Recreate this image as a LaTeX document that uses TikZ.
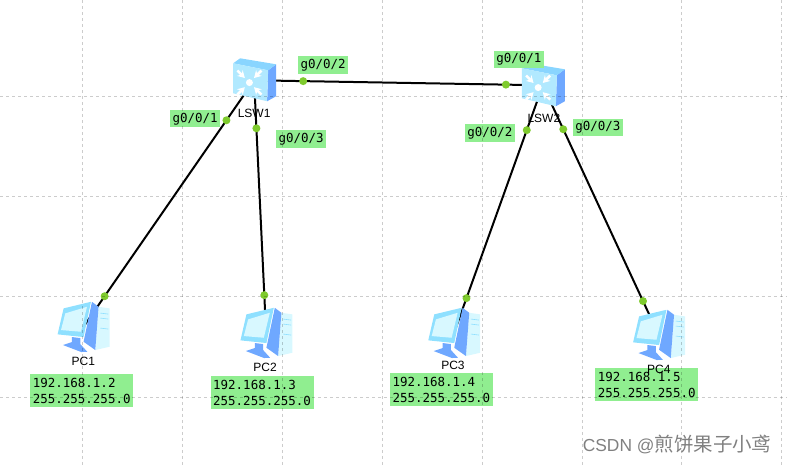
\documentclass[tikz,border=0pt]{standalone}
\usepackage{fontspec}
\setmainfont{Liberation Sans}
\setmonofont{DejaVu Sans Mono}
\newfontfamily\cjkfont{Noto Sans CJK SC}
\usepackage{xcolor}
\usetikzlibrary{positioning, arrows.meta}
\definecolor{rotulo}{HTML}{90EE90}
\definecolor{puerto}{HTML}{7FCB2E}
\definecolor{azulfuerte}{HTML}{6FA8FF}
\definecolor{azulmedio}{HTML}{8FE0FF}
\definecolor{azulclaro}{HTML}{D8F8FF}
\begin{document}
\begin{tikzpicture}[
    x=1pt, y=-1pt,
    equipo/.style={inner sep=0pt, minimum width=44pt, minimum height=42pt},
    pcbox/.style={inner sep=0pt, minimum width=52pt, minimum height=50pt},
    nombre/.style={inner sep=0pt, font=\fontsize{12}{14}\selectfont},
    portlabel/.style={fill=rotulo, inner sep=0pt, minimum width=50pt, minimum height=17.5pt,
        font=\ttfamily\fontsize{12.5}{16}\selectfont},
    iplabel/.style={fill=rotulo, inner xsep=2.5pt, inner ysep=0pt, text width=98pt,
        minimum height=33pt, align=left, font=\ttfamily\fontsize{12.5}{16}\selectfont},
    portdot/.style={circle, fill=puerto, inner sep=0pt, minimum size=8pt},
    enlace/.style={line width=2pt, color=black},
    rejilla/.style={dashed, line width=0.7pt, color=black, opacity=0.2},
    switchicon/.pic={
        \fill[azulfuerte] (14,-10) -- (22,-16) -- (22,16) -- (13,21) -- cycle;
        \fill[azulmedio!80!azulfuerte] (-21,-17) -- (-14,-22) -- (22,-16) -- (14,-10) -- cycle;
        \fill[azulmedio!70!white] (-21,-17) -- (14,-10) -- (13,21) -- (-21,13) -- cycle;
        \fill[white] (-4.7,2.3) circle (3.5);
        \foreach \ang in {45,135,225,315}
            \draw[white, line width=2.6pt, -{Stealth[length=7pt, width=8pt]}]
                ([shift={(-4.7,2.3)}]\ang:17pt) -- ([shift={(-4.7,2.3)}]\ang:6.5pt);
    },
    pcicon/.pic={
        \fill[azulclaro] (15.3,-20.3) -- (26.3,-18.7) -- (26.3,19.7) -- (12,23) -- cycle;
        \draw[azulmedio, line width=0.6pt] (17,-14) -- (25,-13) (17,-9) -- (25,-8) (17,1) -- (25,2);
        \fill[azulfuerte] (8.7,-25.3) -- (15.3,-20.3) -- (12,23) -- (0.3,14.7) -- cycle;
        \fill[azulfuerte] (-11.3,10) -- (-3,11) -- (-3,17) -- (4,24.7) -- (-2,25) -- (-20.3,18) -- (-11.3,15) -- cycle;
        \fill[azulmedio] (-19.7,-18.7) -- (7.7,-25.3) -- (0.3,10) -- (-25.7,7.3) -- cycle;
        \fill[azulclaro] (-18,-13.7) -- (3.7,-20.3) -- (-2.3,4.7) -- (-22.3,3) -- cycle;
    }
]
% equipos
\node[equipo] (lsw1) at (254,80) {};
\node[equipo] (lsw2) at (543,85) {};
\node[pcbox] (pc1) at (83,327) {};
\node[pcbox] (pc2) at (266,333) {};
\node[pcbox] (pc3) at (454,333) {};
\node[pcbox] (pc4) at (659,335) {};

% enlaces
\draw[enlace] (lsw1.center) -- node[portdot, pos=0.17] (d12) {} node[portdot, pos=0.872] (d21) {} (lsw2.center);
\draw[enlace] (lsw1.center) -- node[portdot, pos=0.162] (d11) {} node[portdot, pos=0.875] (dpc1) {} (pc1.center);
\draw[enlace] (lsw1.center) -- node[portdot, pos=0.19] (d13) {} node[portdot, pos=0.85] (dpc2) {} (pc2.center);
\draw[enlace] (lsw2.center) -- node[portdot, pos=0.181] (d22) {} node[portdot, pos=0.859] (dpc3) {} (pc3.center);
\draw[enlace] (lsw2.center) -- node[portdot, pos=0.176] (d23) {} node[portdot, pos=0.864] (dpc4) {} (pc4.center);

\pic at (lsw1) {switchicon};
\pic at (lsw2) {switchicon};
\foreach \n in {pc1,pc2,pc3,pc4}
    \pic at (\n) {pcicon};

% rotulos de puerto
\node[portlabel] (p11) at (195,118.5) {g0/0/1};
\node[portlabel] (p12) at (323,64.5) {g0/0/2};
\node[portlabel] (p13) at (301,139) {g0/0/3};
\node[portlabel] (p21) at (519,59) {g0/0/1};
\node[portlabel] (p22) at (490,133) {g0/0/2};
\node[portlabel] (p23) at (598,127) {g0/0/3};

\node[nombre] (n1) at (254,113) {LSW1};
\node[nombre] (n2) at (544,118) {LSW2};

% direcciones
\node[iplabel, below=22pt of pc1, xshift=-1.5pt] (ip1) {192.168.1.2\\255.255.255.0};
\node[iplabel, below=18pt of pc2, xshift=-4pt] (ip2) {192.168.1.3\\255.255.255.0};
\node[iplabel, below=15pt of pc3, xshift=-12.5pt] (ip3) {192.168.1.4\\255.255.255.0};
\node[iplabel, below=8pt of pc4, xshift=-12pt] (ip4) {192.168.1.5\\255.255.255.0};

\node[nombre, below=5pt of pc1] (t1) {PC1};
\node[nombre, below=5pt of pc2, xshift=-1pt] (t2) {PC2};
\node[nombre, below=3pt of pc3, xshift=-1pt] (t3) {PC3};
\node[nombre, below=5pt of pc4] (t4) {PC4};

% rejilla
\foreach \gx in {82,182,282,382,482,583,682,782}
    \draw[rejilla] (\gx,0) -- (\gx,466);
\foreach \gy in {96,196,296,397}
    \draw[rejilla] (0,\gy) -- (787,\gy);

\node[anchor=base east, inner sep=0pt, color=black!50, font=\fontsize{17.4}{20}\selectfont] (marca) at (772,452)
    {CSDN @{\cjkfont\fontsize{19.5}{20}\selectfont 煎饼果子小鸢}};

\useasboundingbox (0,0) rectangle (787,466);
\end{tikzpicture}
\end{document}
